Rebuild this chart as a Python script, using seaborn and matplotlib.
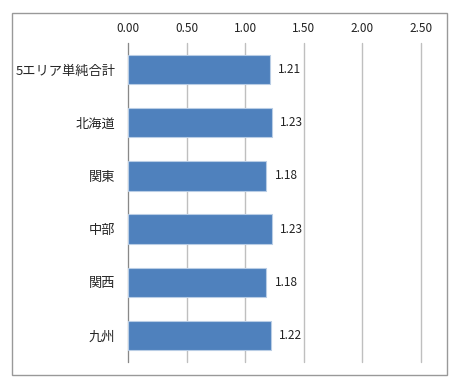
import matplotlib
matplotlib.use("Agg")
import matplotlib.pyplot as plt
import seaborn as sns
import pandas as pd
import numpy as np
from matplotlib.patches import Rectangle

categories = ["5エリア単純合計", "北海道", "関東", "中部", "関西", "九州"]
values = [1.21, 1.23, 1.18, 1.23, 1.18, 1.22]
xticks = [0.0, 0.5, 1.0, 1.5, 2.0, 2.5]

sns.set_theme(style="white")
plt.rcParams['font.family'] = ['Noto Sans CJK JP', 'DejaVu Sans']

fig = plt.figure(figsize=(4.63, 3.88), dpi=100)
ax = fig.add_axes([128/463, 1-362/388, (421-128)/463, (362-43)/388])

df = pd.DataFrame({"cat": categories, "val": values})
sns.barplot(data=df, x="val", y="cat", orient="h", color="#4F81BD", width=0.55,
            edgecolor="#B9CDE5", linewidth=0.8, saturation=1, ax=ax, zorder=3)

ax.set_xlim(0, 2.5)
ax.set_ylim(len(categories)-0.5, -0.5)
ax.set_xticks(xticks)
ax.set_xticklabels([f"{t:.2f}" for t in xticks], fontsize=8.5, color="#222222")
ax.xaxis.tick_top()
ax.tick_params(axis="x", length=0, pad=6)
ax.set_xlabel("")
ax.set_ylabel("")
ax.tick_params(axis="y", which="major", length=0, pad=9, labelsize=9.5)
ax.set_yticks(np.arange(-0.5, len(categories), 1), minor=True)
ax.tick_params(axis="y", which="minor", length=4, width=0.8, color="#888888", direction="out")
ax.grid(axis="x", color="#BFBFBF", linewidth=1, zorder=0)
ax.grid(axis="y", visible=False)
for gl in ax.get_xgridlines():
    gl.set_clip_on(False)
for s in ["top", "bottom", "right"]:
    ax.spines[s].set_visible(False)
ax.spines["left"].set_color("#888888")
ax.spines["left"].set_linewidth(0.8)

for i, v in enumerate(values):
    ax.text(v + 0.07, i, f"{v:.2f}", va="center", ha="left", fontsize=8.5, color="#222222")

fig.patches.append(Rectangle((12/463, 1-375/388), (447-12)/463, (375-13)/388,
                             transform=fig.transFigure, fill=False,
                             edgecolor="#999999", linewidth=1))

fig.savefig("out.png", dpi=100)
